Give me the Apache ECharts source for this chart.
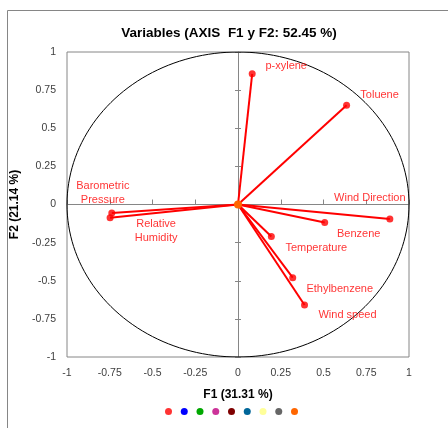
<!DOCTYPE html>
<html><head><meta charset="utf-8">
<script src="https://cdn.jsdelivr.net/npm/echarts@6/dist/echarts.min.js"></script>
<style>html,body{margin:0;padding:0;background:#fff}#c{width:448px;height:428px}</style>
</head><body><div id="c"></div>
<script>
// ---- data ----
const variables = ['p-xylene','Toluene','Wind Direction','Benzene','Temperature','Ethylbenzene','Wind speed','Barometric\nPressure','Relative\nHumidity'];
const f1 = [0.083, 0.635, 0.888, 0.507, 0.195, 0.320, 0.389, -0.738, -0.748];
const f2 = [0.857, 0.651, -0.095, -0.118, -0.210, -0.480, -0.659, -0.056, -0.087];
const origin = [[0, 0]];
const tickMin = -1, tickMax = 1, tickStep = 0.25;
const legendColors = ['#FF0000','#0000FF','#00A800','#CC3399','#7F0000','#006699','#FFFF99','#666666','#FF6600'];
const titleText = 'Variables (AXIS  F1 y F2: 52.45 %)';
const xName = 'F1 (31.31 %)';
const yName = 'F2 (21.14 %)';

// label offsets (style only)
const labelOffsets = {
  'p-xylene':[34,-8], 'Toluene':[33,-10], 'Wind Direction':[-20,-21], 'Benzene':[34,11],
  'Temperature':[45,11], 'Ethylbenzene':[47,11], 'Wind speed':[43,10],
  'Barometric\nPressure':[-9,-20], 'Relative\nHumidity':[46,13]
};

const FONT = 'Liberation Sans';
const chart = echarts.init(document.getElementById('c'), null, {renderer:'canvas'});

const circle = [];
for (let i = 0; i <= 360; i += 2) {
  const a = i * Math.PI / 180;
  circle.push([Math.cos(a), Math.sin(a)]);
}

const points = variables.map((n, i) => ({
  name: n, value: [f1[i], f2[i]],
  label: { offset: labelOffsets[n] }
}));
const segs = variables.map((n, i) => ({ coords: [[0, 0], [f1[i], f2[i]]] }));

const series = [
  { name: 'circle', type: 'line', silent: true, showSymbol: false, z: 3,
    lineStyle: { color: '#000', width: 1 }, data: circle },
  { name: 'vec', type: 'lines', coordinateSystem: 'cartesian2d', silent: true, z: 4,
    lineStyle: { color: '#FF0000', width: 2, opacity: 1, curveness: 0 }, data: segs },
  { name: 'c0', type: 'scatter', symbol: 'circle', symbolSize: 7, z: 5,
    itemStyle: { color: legendColors[0] },
    label: { show: true, position: 'inside', formatter: p => p.name, color: '#FF0000',
      fontFamily: FONT, fontSize: 11, lineHeight: 14, align: 'center', verticalAlign: 'middle' },
    data: points }
];
for (let k = 1; k < legendColors.length; k++) {
  const isOrigin = k === legendColors.length - 1;
  series.push({ name: 'c' + k, type: 'scatter', symbol: 'circle', symbolSize: isOrigin ? 8 : 7,
    z: isOrigin ? 20 : 6,
    itemStyle: { color: legendColors[k], opacity: 1 },
    data: isOrigin ? origin : [] });
}

const axisLabelStyle = { color: '#404040', fontFamily: FONT, fontSize: 10.5 };
chart.setOption({
  animation: false,
  backgroundColor: '#fff',
  title: { text: titleText, left: 224, top: 21, textAlign: 'center',
    textStyle: { fontFamily: FONT, fontSize: 13.5, fontWeight: 'bold', color: '#000' } },
  grid: { left: 67, right: 39, top: 52, bottom: 71, show: true, borderColor: '#868686', borderWidth: 1 },
  legend: { data: legendColors.map((c, k) => 'c' + k), bottom: 8, left: 160,
    icon: 'circle', itemWidth: 7, itemHeight: 7, itemGap: 8.75, formatter: () => '',
    selectedMode: false, textStyle: { fontSize: 1 } },
  graphic: [{ type: 'rect', shape: { x: 7.5, y: 10.5, width: 500, height: 500 },
    style: { fill: 'none', stroke: '#868686', lineWidth: 1 }, silent: true, z: -1 }],
  xAxis: [
    { type: 'value', min: tickMin, max: tickMax, interval: tickStep, position: 'bottom',
      axisLine: { show: false, onZero: false }, axisTick: { show: false }, splitLine: { show: false },
      axisLabel: Object.assign({ margin: 11 }, axisLabelStyle),
      name: xName, nameLocation: 'middle', nameGap: 32,
      nameTextStyle: { fontFamily: FONT, fontSize: 12, fontWeight: 'bold', color: '#000' } },
    { type: 'value', min: tickMin, max: tickMax, interval: tickStep, position: 'bottom',
      axisLine: { show: true, onZero: true, onZeroAxisIndex: 1, lineStyle: { color: '#868686' } },
      axisTick: { show: true, inside: true, length: 5, lineStyle: { color: '#868686' } },
      axisLabel: { show: false }, splitLine: { show: false } }
  ],
  yAxis: [
    { type: 'value', min: tickMin, max: tickMax, interval: tickStep, position: 'left',
      axisLine: { show: false, onZero: false }, axisTick: { show: false }, splitLine: { show: false },
      axisLabel: Object.assign({ margin: 11 }, axisLabelStyle),
      name: yName, nameLocation: 'middle', nameGap: 38,
      nameTextStyle: { fontFamily: FONT, fontSize: 12, fontWeight: 'bold', color: '#000' } },
    { type: 'value', min: tickMin, max: tickMax, interval: tickStep, position: 'left',
      axisLine: { show: true, onZero: true, onZeroAxisIndex: 1, lineStyle: { color: '#868686' } },
      axisTick: { show: true, inside: false, length: 3, lineStyle: { color: '#868686' } },
      axisLabel: { show: false }, splitLine: { show: false } },
    { type: 'value', min: tickMin, max: tickMax, interval: tickStep, position: 'left',
      axisLine: { show: false, onZero: true, onZeroAxisIndex: 1 },
      axisTick: { show: true, inside: true, length: 3, lineStyle: { color: '#868686' } },
      axisLabel: { show: false }, splitLine: { show: false } }
  ],
  series: series
});
</script></body></html>
